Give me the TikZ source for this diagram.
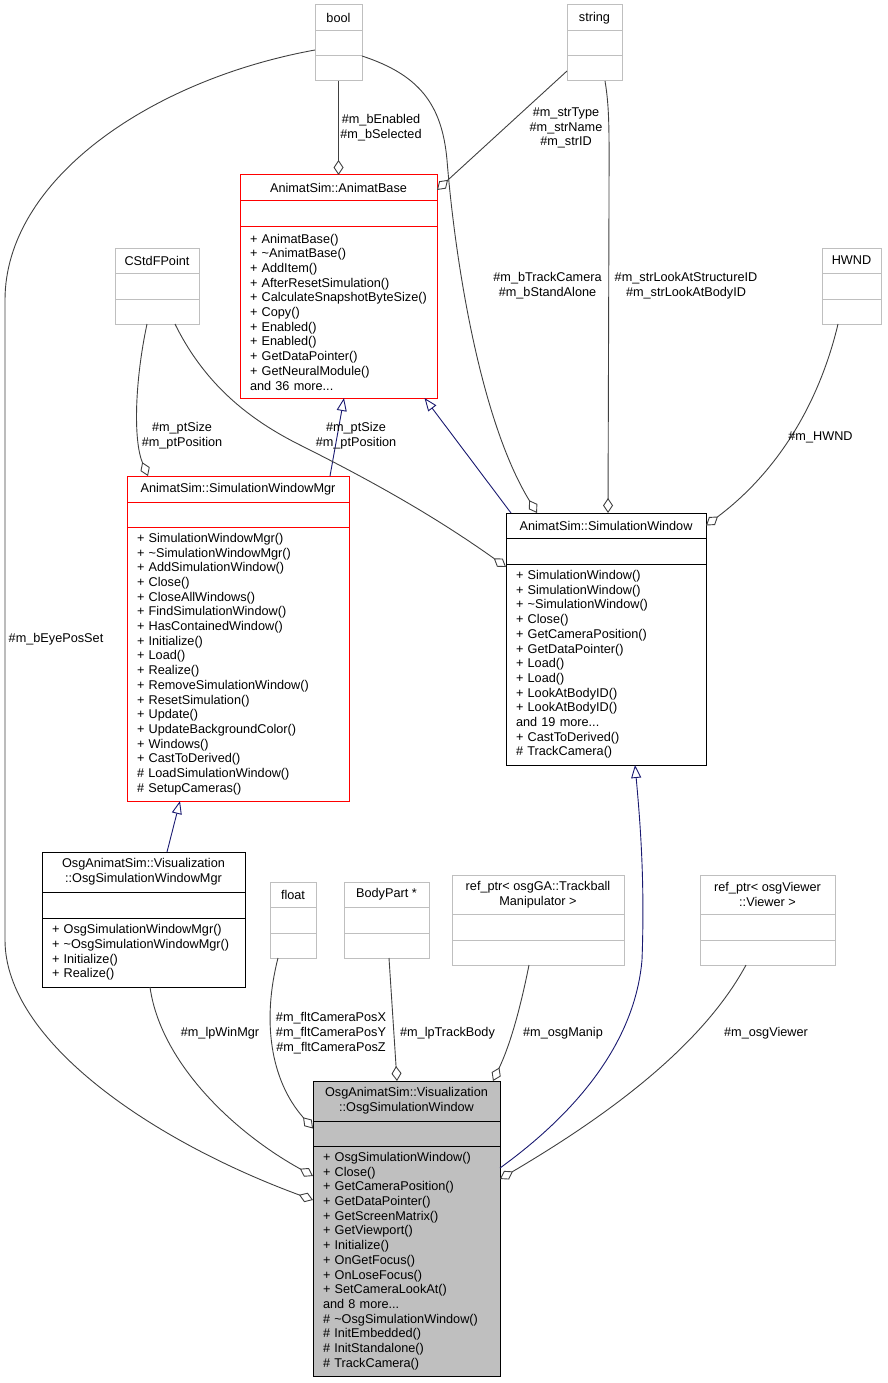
\documentclass[tikz,border=0pt]{standalone}
\usepackage{fontspec}
\setmainfont{Liberation Sans}
\usepackage{xcolor}
\usetikzlibrary{shapes,arrows,positioning,arrows.meta}

\definecolor{boxgray}{HTML}{BFBFBF}
\definecolor{edgegray}{HTML}{404040}
\definecolor{navyblue}{HTML}{191970}

\begin{document}
\begin{tikzpicture}[x=1pt, y=-1pt,
    cls/.style={rectangle, draw, line width=1pt, inner sep=0pt, outer sep=0pt, align=center, font=\fontsize{12.7}{14.7}\selectfont},
    ops/.style={cls, align=left, inner xsep=10pt},
    agg/.style={draw=edgegray, line width=0.9pt, -{Diamond[length=15pt, width=10pt, fill=white]}},
    inh/.style={draw=navyblue, line width=0.9pt, -{Triangle[length=13pt, width=10pt, fill=white]}},
    lbl/.style={inner sep=0pt, align=center, font=\fontsize{12.7}{14.7}\selectfont}]
    \useasboundingbox (0,0) rectangle (887,1383);

    % Plain types
    \node[cls, draw=boxgray, minimum width=47, minimum height=26, anchor=north west] (bool) at (315,5) {bool};
    \node[cls, draw=boxgray, minimum width=47, minimum height=25, below=0pt of bool] (bool-attr) {};
    \node[cls, draw=boxgray, minimum width=47, minimum height=25, below=0pt of bool-attr] (bool-ops) {};

    \node[cls, draw=boxgray, minimum width=55, minimum height=26, anchor=north west] (string) at (567,5) {string};
    \node[cls, draw=boxgray, minimum width=55, minimum height=25, below=0pt of string] (string-attr) {};
    \node[cls, draw=boxgray, minimum width=55, minimum height=25, below=0pt of string-attr] (string-ops) {};

    \node[cls, draw=boxgray, minimum width=84, minimum height=25, anchor=north west] (point) at (115,248) {CStdFPoint};
    \node[cls, draw=boxgray, minimum width=84, minimum height=26, below=0pt of point] (point-attr) {};
    \node[cls, draw=boxgray, minimum width=84, minimum height=25, below=0pt of point-attr] (point-ops) {};

    \node[cls, draw=boxgray, minimum width=59, minimum height=25, anchor=north west] (hwnd) at (822,248) {HWND};
    \node[cls, draw=boxgray, minimum width=59, minimum height=26, below=0pt of hwnd] (hwnd-attr) {};
    \node[cls, draw=boxgray, minimum width=59, minimum height=25, below=0pt of hwnd-attr] (hwnd-ops) {};

    \node[cls, draw=boxgray, minimum width=46, minimum height=25, anchor=north west] (float) at (270,882) {float};
    \node[cls, draw=boxgray, minimum width=46, minimum height=26, below=0pt of float] (float-attr) {};
    \node[cls, draw=boxgray, minimum width=46, minimum height=25, below=0pt of float-attr] (float-ops) {};

    \node[cls, draw=boxgray, minimum width=85, minimum height=25, anchor=north west] (bodypart) at (344,882) {BodyPart *};
    \node[cls, draw=boxgray, minimum width=85, minimum height=26, below=0pt of bodypart] (bodypart-attr) {};
    \node[cls, draw=boxgray, minimum width=85, minimum height=25, below=0pt of bodypart-attr] (bodypart-ops) {};

    \node[cls, draw=boxgray, minimum width=172, minimum height=39, anchor=north west] (manip) at (452,875) {ref\_ptr< osgGA::Trackball\\Manipulator >};
    \node[cls, draw=boxgray, minimum width=172, minimum height=26, below=0pt of manip] (manip-attr) {};
    \node[cls, draw=boxgray, minimum width=172, minimum height=25, below=0pt of manip-attr] (manip-ops) {};

    \node[cls, draw=boxgray, minimum width=135, minimum height=39, anchor=north west] (viewer) at (700,875) {ref\_ptr< osgViewer\\::Viewer >};
    \node[cls, draw=boxgray, minimum width=135, minimum height=26, below=0pt of viewer] (viewer-attr) {};
    \node[cls, draw=boxgray, minimum width=135, minimum height=25, below=0pt of viewer-attr] (viewer-ops) {};

    % Classes
    \node[cls, draw=red, minimum width=197, minimum height=25, anchor=north west] (base) at (240,175) {AnimatSim::AnimatBase};
    \node[cls, draw=red, minimum width=197, minimum height=26, below=0pt of base] (base-attr) {};
    \node[ops, draw=red, text width=177, minimum height=172, below=0pt of base-attr] (base-ops) {+ AnimatBase()\\+ \textasciitilde AnimatBase()\\+ AddItem()\\+ AfterResetSimulation()\\+ CalculateSnapshotByteSize()\\+ Copy()\\+ Enabled()\\+ Enabled()\\+ GetDataPointer()\\+ GetNeuralModule()\\and 36 more...};

    \node[cls, draw=red, minimum width=222, minimum height=26, anchor=north west] (winmgr) at (127,476) {AnimatSim::SimulationWindowMgr};
    \node[cls, draw=red, minimum width=222, minimum height=25, below=0pt of winmgr] (winmgr-attr) {};
    \node[ops, draw=red, text width=202, minimum height=274, below=0pt of winmgr-attr] (winmgr-ops) {+ SimulationWindowMgr()\\+ \textasciitilde SimulationWindowMgr()\\+ AddSimulationWindow()\\+ Close()\\+ CloseAllWindows()\\+ FindSimulationWindow()\\+ HasContainedWindow()\\+ Initialize()\\+ Load()\\+ Realize()\\+ RemoveSimulationWindow()\\+ ResetSimulation()\\+ Update()\\+ UpdateBackgroundColor()\\+ Windows()\\+ CastToDerived()\\\# LoadSimulationWindow()\\\# SetupCameras()};

    \node[cls, minimum width=200, minimum height=25, anchor=north west] (simwin) at (506,513) {AnimatSim::SimulationWindow};
    \node[cls, minimum width=200, minimum height=26, below=0pt of simwin] (simwin-attr) {};
    \node[ops, text width=180, minimum height=201, below=0pt of simwin-attr] (simwin-ops) {+ SimulationWindow()\\+ SimulationWindow()\\+ \textasciitilde SimulationWindow()\\+ Close()\\+ GetCameraPosition()\\+ GetDataPointer()\\+ Load()\\+ Load()\\+ LookAtBodyID()\\+ LookAtBodyID()\\and 19 more...\\+ CastToDerived()\\\# TrackCamera()};

    \node[cls, minimum width=203, minimum height=40, anchor=north west] (osgmgr) at (42,852) {OsgAnimatSim::Visualization\\::OsgSimulationWindowMgr};
    \node[cls, minimum width=203, minimum height=26, below=0pt of osgmgr] (osgmgr-attr) {};
    \node[ops, text width=183, minimum height=69, below=0pt of osgmgr-attr] (osgmgr-ops) {+ OsgSimulationWindowMgr()\\+ \textasciitilde OsgSimulationWindowMgr()\\+ Initialize()\\+ Realize()};

    \node[cls, fill=boxgray, minimum width=187, minimum height=40, anchor=north west] (osgwin) at (313,1081) {OsgAnimatSim::Visualization\\::OsgSimulationWindow};
    \node[cls, fill=boxgray, minimum width=187, minimum height=25, below=0pt of osgwin] (osgwin-attr) {};
    \node[ops, fill=boxgray, text width=167, minimum height=230, below=0pt of osgwin-attr] (osgwin-ops) {+ OsgSimulationWindow()\\+ Close()\\+ GetCameraPosition()\\+ GetDataPointer()\\+ GetScreenMatrix()\\+ GetViewport()\\+ Initialize()\\+ OnGetFocus()\\+ OnLoseFocus()\\+ SetCameraLookAt()\\and 8 more...\\\# \textasciitilde OsgSimulationWindow()\\\# InitEmbedded()\\\# InitStandalone()\\\# TrackCamera()};

    % Inheritance
    \draw[inh] ([xshift=5]simwin.north west) -- ([xshift=86]base-ops.south);
    \draw[inh] ([xshift=92]winmgr.north) -- ([xshift=5.5]base-ops.south);
    \draw[inh] ([xshift=23.5]osgmgr.north) -- ([xshift=-58]winmgr-ops.south);
    \draw[inh] ([yshift=-22]osgwin-ops.north east) .. controls (580,1110) and (635,1040) .. (642,960) .. controls (645,880) and (640,820) .. ([xshift=29]simwin-ops.south);

    % Members
    \draw[agg] (bool-ops.south) -- (base.north);
    \draw[agg] ([yshift=-2.5]string-ops.west) -- ([yshift=-2.5]base.east);
    \draw[agg] (bool-attr.south east) .. controls (420,75) and (442,105) .. (447,160) .. controls (455,260) and (480,420) .. ([xshift=-69]simwin.north);
    \draw[agg] ([xshift=10.5]string-ops.south) .. controls (610,110) and (609,140) .. (609,200) -- ([xshift=2]simwin.north);
    \draw[agg] ([xshift=-13.5]hwnd-ops.south) .. controls (820,400) and (780,470) .. (simwin.east);
    \draw[agg] ([xshift=-10]point-ops.south) .. controls (135,380) and (133,440) .. ([xshift=-90]winmgr.north);
    \draw[agg] ([xshift=18]point-ops.south) .. controls (205,385) and (250,420) .. (300,445) .. controls (380,485) and (440,520) .. ([yshift=-3]simwin-ops.north west);
    \draw[agg] ([yshift=-6.5]bool-attr.west) .. controls (150,80) and (5,180) .. (5,300) -- (5,940) .. controls (5,1040) and (150,1140) .. ([yshift=-54]osgwin-ops.north west);
    \draw[agg] ([xshift=6.5]osgmgr-ops.south) .. controls (160,1060) and (230,1130) .. ([yshift=-30]osgwin-ops.north west);
    \draw[agg] ([xshift=-15]float-ops.south) .. controls (262,1020) and (270,1080) .. ([yshift=5]osgwin-attr.west);
    \draw[agg] ([xshift=2.5]bodypart-ops.south) -- ([xshift=-9.5]osgwin.north);
    \draw[agg] ([xshift=-9]manip-ops.south) .. controls (520,1010) and (510,1045) .. ([xshift=86.5]osgwin.north);
    \draw[agg] ([xshift=-21.5]viewer-ops.south) .. controls (700,1050) and (600,1120) .. ([yshift=-33]osgwin-ops.north east);

    % Labels
    \node[lbl] (lbl-enabled) at (381,127.5) {\#m\_bEnabled\\\#m\_bSelected};
    \node[lbl] (lbl-str) at (566,128) {\#m\_strType\\\#m\_strName\\\#m\_strID};
    \node[lbl] (lbl-track) at (547.5,286) {\#m\_bTrackCamera\\\#m\_bStandAlone};
    \node[lbl] (lbl-lookat) at (686,286) {\#m\_strLookAtStructureID\\\#m\_strLookAtBodyID};
    \node[lbl] (lbl-hwnd) at (820.5,437) {\#m\_HWND};
    \node[lbl] (lbl-pt-mgr) at (182,436) {\#m\_ptSize\\\#m\_ptPosition};
    \node[lbl] (lbl-pt-win) at (356,436) {\#m\_ptSize\\\#m\_ptPosition};
    \node[lbl] (lbl-eye) at (56,639) {\#m\_bEyePosSet};
    \node[lbl] (lbl-winmgr) at (220,1033) {\#m\_lpWinMgr};
    \node[lbl] (lbl-flt) at (331,1033) {\#m\_fltCameraPosX\\\#m\_fltCameraPosY\\\#m\_fltCameraPosZ};
    \node[lbl] (lbl-body) at (447.5,1033) {\#m\_lpTrackBody};
    \node[lbl] (lbl-manip) at (563,1033) {\#m\_osgManip};
    \node[lbl] (lbl-viewer) at (766,1033) {\#m\_osgViewer};
\end{tikzpicture}
\end{document}
